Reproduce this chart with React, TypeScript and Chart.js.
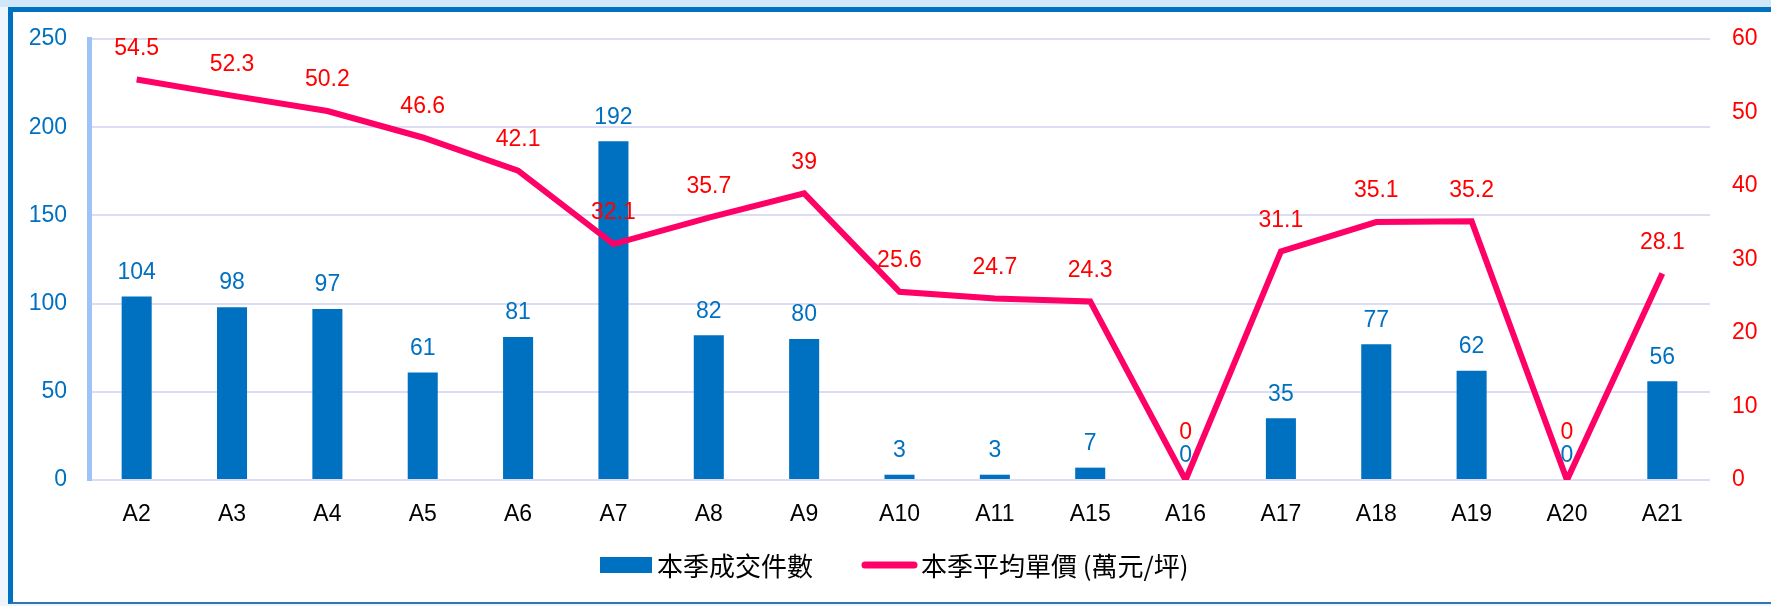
import { useEffect, useRef } from "react";
import { Chart, registerables } from "chart.js";

Chart.register(...registerables);

const categories = ["A2", "A3", "A4", "A5", "A6", "A7", "A8", "A9", "A10", "A11", "A15", "A16", "A17", "A18", "A19", "A20", "A21"];
const dealCounts = [104, 98, 97, 61, 81, 192, 82, 80, 3, 3, 7, 0, 35, 77, 62, 0, 56];
const avgPrices = [54.5, 52.3, 50.2, 46.6, 42.1, 32.1, 35.7, 39, 25.6, 24.7, 24.3, 0, 31.1, 35.1, 35.2, 0, 28.1];
const leftAxisRange = [0, 250, 50];
const rightAxisRange = [0, 60, 10];
const seriesNames = ["本季成交件數", "本季平均單價 (萬元/坪)"];

const BLUE = "#0070C0";
const PINK = "#FF0066";
const RED = "#FF0000";
const GRID = "#DCDCF4";
const NUM_FONT = '"Liberation Sans", Arial, sans-serif';
const CJK_FONT = '"Noto Sans CJK TC", "Noto Sans", sans-serif';

const labelPlugin = {
  id: "valueLabels",
  afterDatasetsDraw(chart: any) {
    const ctx = chart.ctx;
    ctx.save();
    ctx.font = `23px ${NUM_FONT}`;
    ctx.textAlign = "center";
    ctx.textBaseline = "middle";
    chart.data.datasets.forEach((ds: any, di: number) => {
      const meta = chart.getDatasetMeta(di);
      meta.data.forEach((el: any, i: number) => {
        const v = ds.data[i];
        if (ds.type === "bar") {
          ctx.fillStyle = BLUE;
          ctx.fillText(String(v), el.x, el.y - 24);
        } else {
          ctx.fillStyle = RED;
          const off = v === 0 ? 47 : 31;
          ctx.fillText(String(v), el.x, el.y - off);
        }
      });
    });
    ctx.restore();
  },
};

const legendPlugin = {
  id: "customLegend",
  afterDraw(chart: any) {
    const ctx = chart.ctx;
    ctx.save();
    const cy = 565;
    ctx.font = `26px ${CJK_FONT}`;
    ctx.textBaseline = "middle";
    ctx.textAlign = "left";
    ctx.fillStyle = BLUE;
    ctx.fillRect(600, cy - 8, 52, 16);
    ctx.fillStyle = "#000";
    ctx.fillText(chart.data.datasets[0].label, 657, cy + 1);
    ctx.strokeStyle = PINK;
    ctx.lineWidth = 7;
    ctx.lineCap = "round";
    ctx.beginPath();
    ctx.moveTo(865, cy);
    ctx.lineTo(914, cy);
    ctx.stroke();
    ctx.fillStyle = "#000";
    ctx.fillText(chart.data.datasets[1].label, 921, cy + 1);
    ctx.restore();
  },
};

export default function App() {
  const ref = useRef<HTMLCanvasElement | null>(null);

  useEffect(() => {
    if (!ref.current) return;
    const chart = new Chart(ref.current, {
      data: {
        labels: categories,
        datasets: [
          {
            type: "bar",
            label: seriesNames[0],
            data: dealCounts,
            backgroundColor: BLUE,
            yAxisID: "y",
            order: 2,
            categoryPercentage: 1,
            barPercentage: 0.315,
          },
          {
            type: "line",
            label: seriesNames[1],
            data: avgPrices,
            borderColor: PINK,
            borderWidth: 6,
            pointRadius: 0,
            tension: 0,
            yAxisID: "y1",
            order: 1,
          },
        ],
      } as any,
      options: {
        responsive: false,
        animation: false,
        events: [],
        layout: { padding: { top: 39, bottom: 76, left: 0, right: 0 } },
        plugins: {
          legend: { display: false },
          tooltip: { enabled: false },
          title: { display: false },
        },
        scales: {
          x: {
            grid: { display: false },
            border: { display: false },
            ticks: {
              color: "#000",
              font: { family: NUM_FONT, size: 23 },
              padding: 13,
              maxRotation: 0,
            },
            afterFit(scale: any) {
              scale.height = 50;
            },
          },
          y: {
            position: "left",
            min: leftAxisRange[0],
            max: leftAxisRange[1],
            ticks: {
              stepSize: leftAxisRange[2],
              color: BLUE,
              font: { family: NUM_FONT, size: 23 },
              padding: 22,
            },
            grid: { color: GRID, lineWidth: 2, drawTicks: false },
            border: { display: true, color: "#9DC3F7", width: 5 },
            afterFit(scale: any) {
              scale.width = 89;
            },
          },
          y1: {
            position: "right",
            min: rightAxisRange[0],
            max: rightAxisRange[1],
            ticks: {
              stepSize: rightAxisRange[2],
              color: RED,
              font: { family: NUM_FONT, size: 23 },
              padding: 22,
            },
            grid: { drawOnChartArea: false, drawTicks: false },
            border: { display: false },
            afterFit(scale: any) {
              scale.width = 61;
            },
          },
        },
      } as any,
      plugins: [labelPlugin, legendPlugin],
    });
    return () => chart.destroy();
  }, []);

  return (
    <div
      style={{
        position: "fixed",
        left: 0,
        top: 0,
        width: 1771,
        height: 606,
        overflow: "hidden",
        background: "#EEF5FC",
      }}
    >
      <div style={{ position: "absolute", left: 0, top: 0, width: 1771, height: 7, background: "#D0E6F9" }} />
      <div
        style={{
          position: "absolute",
          left: 8,
          top: 7,
          width: 1800,
          height: 590,
          background: "#FFFFFF",
          borderTop: "5px solid #0070C0",
          borderLeft: "5px solid #0070C0",
          borderBottom: "2px solid #2E75B6",
        }}
      />
      <canvas
        ref={ref}
        width={1771}
        height={606}
        style={{ position: "absolute", left: 0, top: 0, width: 1771, height: 606 }}
      />
    </div>
  );
}
